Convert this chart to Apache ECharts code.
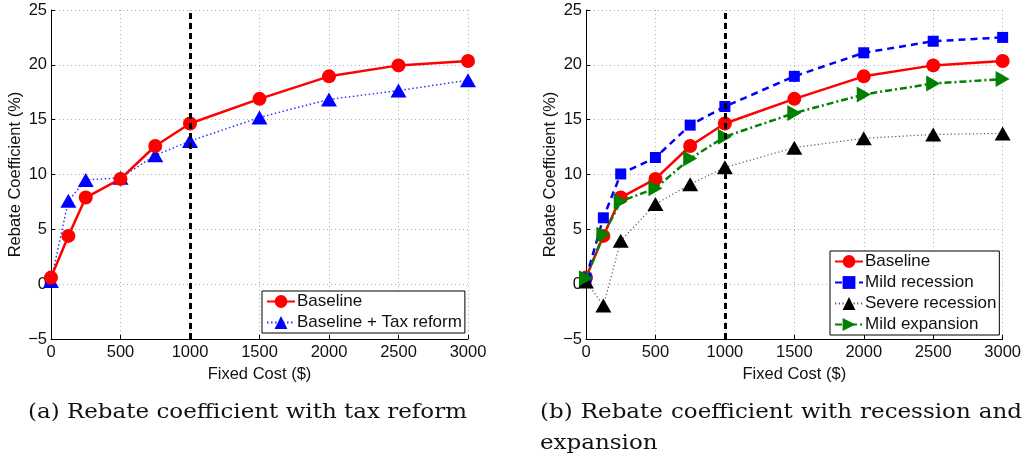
<!DOCTYPE html>
<html>
<head>
<meta charset="utf-8">
<script src="https://cdn.jsdelivr.net/npm/echarts@6/dist/echarts.min.js"></script>
<style>
html,body{margin:0;padding:0;background:#fff;}
#c{width:1024px;height:457px;}
</style>
</head>
<body>
<div id="c"></div>
<script>
// ---- data ----
const fixedCost = [0, 125, 250, 500, 750, 1000, 1500, 2000, 2500, 3000];
const baseline = [0.6, 4.4, 7.9, 9.6, 12.6, 14.65, 16.9, 18.95, 19.95, 20.35];
const taxReform = [0.3, 7.6, 9.5, 9.7, 11.75, 13.05, 15.2, 16.85, 17.65, 18.6];
const mildRecession = [0.55, 6.05, 10.05, 11.55, 14.5, 16.2, 18.95, 21.1, 22.15, 22.5];
const severeRecession = [0.25, -1.95, 3.95, 7.3, 9.1, 10.65, 12.45, 13.3, 13.65, 13.75];
const mildExpansion = [0.55, 4.5, 7.55, 8.75, 11.45, 13.45, 15.6, 17.3, 18.3, 18.7];
const cutoffCost = 1000;
const xTicks = {min: 0, max: 3000, interval: 500};
const yTicks = {min: -5, max: 25, interval: 5};
const xAxisName = 'Fixed Cost ($)';
const yAxisName = 'Rebate Coefficient (%)';
const legendA = ['Baseline', 'Baseline + Tax reform'];
const legendB = ['Baseline', 'Mild recession', 'Severe recession', 'Mild expansion'];
const captionA = '(a) Rebate coefficient with tax reform';
const captionB1 = ['(b)', 'Rebate', 'coefficient', 'with', 'recession', 'and'];
const captionB2 = 'expansion';

// ---- layout (positions only) ----
const capA = {x: 28, y: 403, width: 439};
const capB1 = {x: 540, y: 403, width: 482};
const capB2 = {x: 540, y: 434};

const pairs = ys => fixedCost.map((x, i) => [x, ys[i]]);
const sans = '"Liberation Sans", Arial, sans-serif';
const serifFont = '20px "DejaVu Serif", serif';

const mctx = document.createElement('canvas').getContext('2d');
mctx.font = serifFont;
const measure = t => mctx.measureText(t).width;
const capScale = capA.width / measure(captionA);

function mkX(gi) {
  return {
    type: 'value', gridIndex: gi, min: xTicks.min, max: xTicks.max, interval: xTicks.interval,
    name: xAxisName, nameLocation: 'middle', nameGap: 22,
    nameTextStyle: {fontFamily: sans, fontSize: 16.5, color: '#111', verticalAlign: 'top'},
    axisLine: {show: true, onZero: false, lineStyle: {color: '#000', width: 1}},
    axisTick: {show: true, inside: true, length: 4, lineStyle: {color: '#000'}},
    axisLabel: {fontFamily: sans, fontSize: 16.5, color: '#111', margin: 5,
      formatter: v => String(v)},
    splitLine: {show: true, lineStyle: {color: '#b0b0b0', type: [1, 3], width: 1}}
  };
}
function mkY(gi) {
  return {
    type: 'value', gridIndex: gi, min: yTicks.min, max: yTicks.max, interval: yTicks.interval,
    name: yAxisName, nameLocation: 'middle', nameGap: 25,
    nameTextStyle: {fontFamily: sans, fontSize: 16.5, color: '#111'},
    axisLine: {show: true, onZero: false, lineStyle: {color: '#000', width: 1}},
    axisTick: {show: true, inside: true, length: 4, lineStyle: {color: '#000'}},
    axisLabel: {fontFamily: sans, fontSize: 16.5, color: '#111', margin: 4,
      formatter: v => v < 0 ? '\u2212' + Math.abs(v) : String(v)},
    splitLine: {show: true, lineStyle: {color: '#b0b0b0', type: [1, 3], width: 1}}
  };
}
function vline(gi) {
  return {
    type: 'line', xAxisIndex: gi, yAxisIndex: gi, data: [], silent: true, z: 10,
    markLine: {
      silent: true, symbol: ['none', 'none'], label: {show: false}, z: 10,
      lineStyle: {color: '#000', width: 3, type: [6, 4]},
      emphasis: {disabled: true},
      data: [{xAxis: cutoffCost}]
    }
  };
}
function baseSeries(gi) {
  return {
    name: 'Baseline', type: 'line', xAxisIndex: gi, yAxisIndex: gi, data: pairs(baseline),
    symbol: 'circle', symbolSize: 14, z: 3,
    lineStyle: {color: '#ff0000', width: 2.5},
    itemStyle: {color: '#ff0000'}
  };
}

const legendCommon = {
  orient: 'vertical', itemWidth: 28, itemHeight: 16, itemGap: 4,
  backgroundColor: '#fff', borderColor: '#000', borderWidth: 1, borderRadius: 0,
  textStyle: {fontFamily: sans, fontSize: 17, color: '#111', padding: [0, 0, 0, -3]},
  selectedMode: false
};

function textEl(t, x, y) {
  return {
    type: 'text', x: x, y: y, scaleX: capScale, scaleY: 1,
    style: {text: t, x: 0, y: 0, font: serifFont, fill: '#111',
      textAlign: 'left', textVerticalAlign: 'top'}
  };
}
function justified(list, box) {
  const ws = list.map(w => measure(w) * capScale);
  const total = ws.reduce((a, b) => a + b, 0);
  const gap = (box.width - total) / (list.length - 1);
  let x = box.x;
  return list.map((w, i) => {
    const el = textEl(w, x, box.y);
    x += ws[i] + gap;
    return el;
  });
}

const option = {
  animation: false,
  grid: [
    {left: 51, top: 10, width: 417, height: 329},
    {left: 586, top: 10, width: 417, height: 329}
  ],
  xAxis: [mkX(0), mkX(1)],
  yAxis: [mkY(0), mkY(1)],
  legend: [
    Object.assign({}, legendCommon, {data: legendA, left: 262, top: 291, padding: [2, 3, 2, 4]}),
    Object.assign({}, legendCommon, {data: legendB, left: 830, top: 251, padding: [2, 3, 2, 4]})
  ],
  series: [
    baseSeries(0),
    {
      name: 'Baseline + Tax reform', type: 'line', xAxisIndex: 0, yAxisIndex: 0, data: pairs(taxReform),
      symbol: 'triangle', symbolSize: [16, 14], z: 2,
      lineStyle: {color: '#3333ff', width: 1.5, type: [1.5, 2.5]},
      itemStyle: {color: '#0000ff'}
    },
    vline(0),
    baseSeries(1),
    {
      name: 'Mild recession', type: 'line', xAxisIndex: 1, yAxisIndex: 1, data: pairs(mildRecession),
      symbol: 'rect', symbolSize: 11, z: 3,
      lineStyle: {color: '#0000ff', width: 2.5, type: [7, 5]},
      itemStyle: {color: '#0000ff'}
    },
    {
      name: 'Severe recession', type: 'line', xAxisIndex: 1, yAxisIndex: 1, data: pairs(severeRecession),
      symbol: 'triangle', symbolSize: [16, 14], z: 3,
      lineStyle: {color: '#555', width: 1.2, type: [1.2, 2.5]},
      itemStyle: {color: '#000'}
    },
    {
      name: 'Mild expansion', type: 'line', xAxisIndex: 1, yAxisIndex: 1, data: pairs(mildExpansion),
      symbol: 'triangle', symbolRotate: -90, symbolSize: [16, 14], z: 4,
      lineStyle: {color: '#008000', width: 2.5, type: [7, 3, 2, 3]},
      itemStyle: {color: '#008000'}
    },
    vline(1)
  ],
  graphic: [].concat(
    [textEl(captionA, capA.x, capA.y)],
    justified(captionB1, capB1),
    [textEl(captionB2, capB2.x, capB2.y)]
  )
};

const chart = echarts.init(document.getElementById('c'), null, {renderer: 'canvas'});
chart.setOption(option);
</script>
</body>
</html>
